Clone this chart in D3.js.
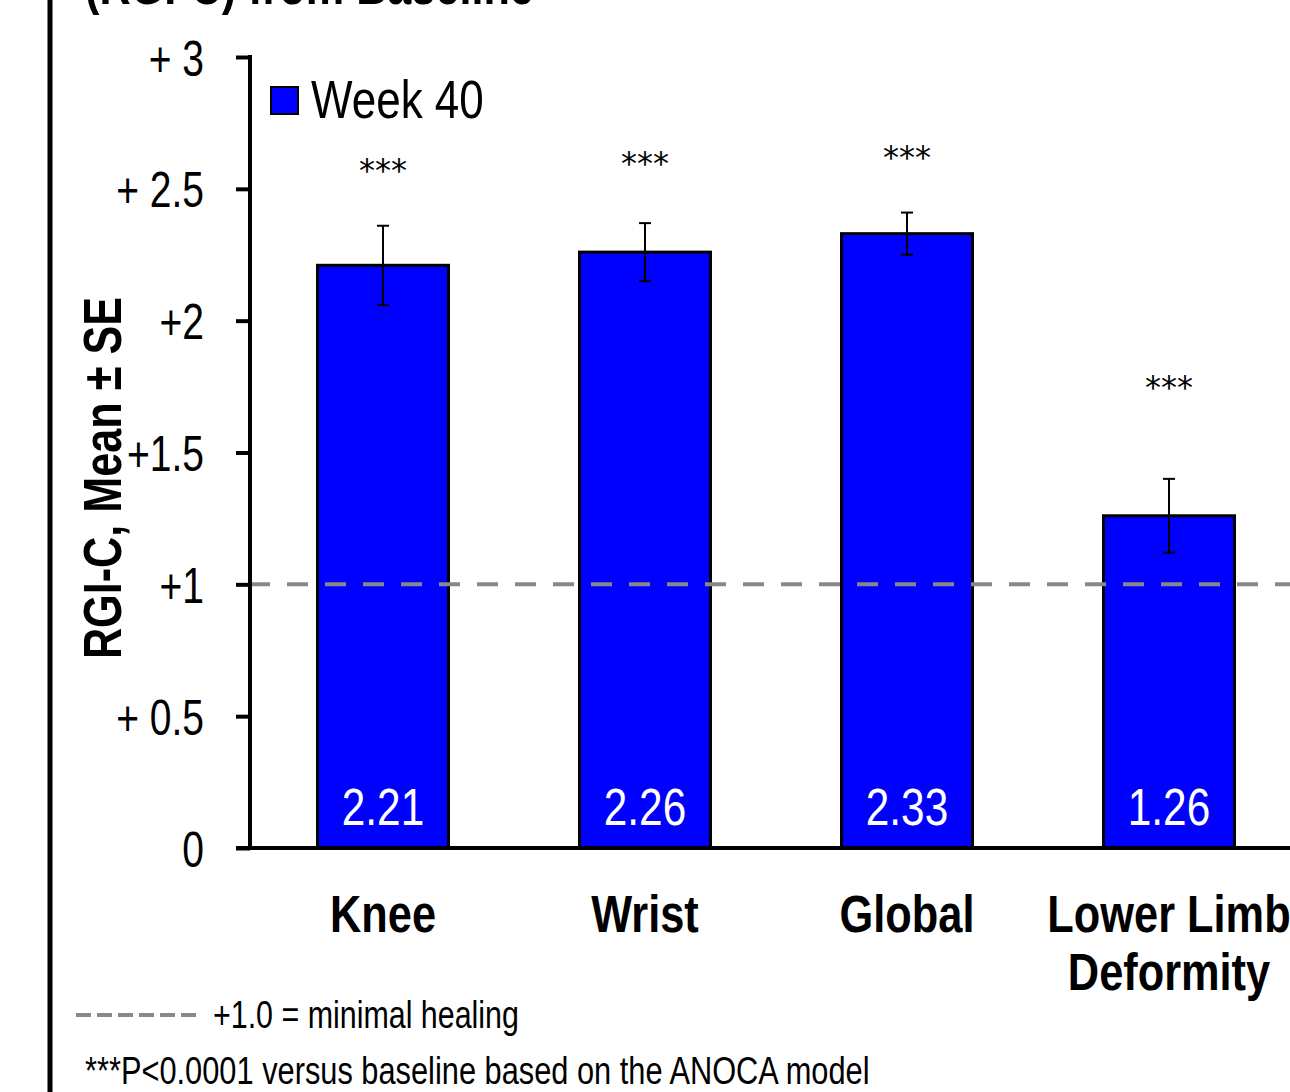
<!DOCTYPE html>
<html>
<head>
<meta charset="utf-8">
<script src="https://cdn.jsdelivr.net/npm/d3@7"></script>
<style>
  body { margin: 0; background: #fff; }
  svg { display: block; }
  text { font-family: "Liberation Sans", Arial, sans-serif; }
</style>
</head>
<body>
<script>

// chart data
var categories = ["Knee", "Wrist", "Global", "Lower Limb|Deformity"];
var means = [2.21, 2.26, 2.33, 1.26];
var errors = [0.15, 0.11, 0.08, 0.14];
var starLevels = [2.6, 2.63, 2.65, 1.78];
var yTicks = [0, 0.5, 1, 1.5, 2, 2.5, 3];
var yTickLabels = ["0", "+ 0.5", "+1", "+1.5", "+2", "+ 2.5", "+ 3"];
var minimalHealing = 1;

// squeeze text horizontally to look like a narrow font
function narrow(sel, f) {
  sel.each(function() {
    var w = this.getComputedTextLength();
    d3.select(this)
      .attr("textLength", w * f)
      .attr("lengthAdjust", "spacingAndGlyphs");
  });
}

window.onload = function() {

  var W = 1290, H = 1092;

  var svg = d3.select("body")
              .append("svg")
              .attr("width", W)
              .attr("height", H);

  // slide border on the left
  svg.append("line")
     .attr("x1", 50).attr("x2", 50)
     .attr("y1", 0).attr("y2", H)
     .attr("stroke", "black")
     .attr("stroke-width", 5);

  // title (cut off at the top)
  svg.append("text")
     .attr("x", 85)
     .attr("y", 4)
     .attr("font-size", "54px")
     .attr("font-weight", "bold")
     .text("(RGI-C) from Baseline")
     .call(narrow, 0.8);

  // scales
  var yScale = d3.scaleLinear()
                 .domain([0, 3])
                 .range([848, 57]);

  var xScale = d3.scaleBand()
                 .domain(categories)
                 .range([252, 1300])
                 .paddingInner(0.5)
                 .paddingOuter(0.25);

  // bars
  svg.selectAll("rect.bar")
     .data(means)
     .enter()
     .append("rect")
     .attr("class", "bar")
     .attr("x", function(d, i) { return xScale(categories[i]); })
     .attr("y", function(d) { return yScale(d); })
     .attr("width", xScale.bandwidth())
     .attr("height", function(d) { return yScale(0) - yScale(d); })
     .attr("fill", "#0000ff")
     .attr("stroke", "black")
     .attr("stroke-width", 3);

  // dashed reference line at +1
  svg.append("line")
     .attr("x1", 249).attr("x2", W)
     .attr("y1", yScale(minimalHealing)).attr("y2", yScale(minimalHealing))
     .attr("stroke", "#888")
     .attr("stroke-width", 4)
     .attr("stroke-dasharray", "21,17");

  // error bars
  var eb = svg.selectAll("g.err")
              .data(means)
              .enter()
              .append("g")
              .attr("class", "err")
              .attr("transform", function(d, i) {
                return "translate(" + (xScale(categories[i]) + xScale.bandwidth() / 2) + ",0)";
              });

  eb.append("line")
    .attr("y1", function(d, i) { return yScale(d + errors[i]); })
    .attr("y2", function(d, i) { return yScale(d - errors[i]); })
    .attr("stroke", "black")
    .attr("stroke-width", 2);

  eb.append("line")
    .attr("x1", -6).attr("x2", 6)
    .attr("y1", function(d, i) { return yScale(d + errors[i]); })
    .attr("y2", function(d, i) { return yScale(d + errors[i]); })
    .attr("stroke", "black")
    .attr("stroke-width", 2);

  eb.append("line")
    .attr("x1", -6).attr("x2", 6)
    .attr("y1", function(d, i) { return yScale(d - errors[i]); })
    .attr("y2", function(d, i) { return yScale(d - errors[i]); })
    .attr("stroke", "black")
    .attr("stroke-width", 2);

  // significance stars
  eb.append("text")
    .attr("y", function(d, i) { return yScale(starLevels[i]) + 19; })
    .attr("text-anchor", "middle")
    .style("font-family", "'DejaVu Sans', sans-serif")
    .attr("font-size", "32px")
    .text("***");

  // value labels inside bars
  eb.append("text")
    .attr("y", 825)
    .attr("text-anchor", "middle")
    .attr("font-size", "51px")
    .attr("fill", "white")
    .text(function(d) { return d.toFixed(2); })
    .call(narrow, 0.83);

  // y axis
  var yAxis = d3.axisLeft(yScale)
                .tickValues(yTicks)
                .tickSize(14)
                .tickPadding(32)
                .tickFormat(function(d, i) { return yTickLabels[i]; });

  var yGuide = svg.append("g")
                  .attr("transform", "translate(250,0)")
                  .call(yAxis);
  yGuide.select(".domain").remove();
  yGuide.selectAll("line")
        .attr("stroke", "black")
        .attr("stroke-width", 4);
  yGuide.selectAll("text")
        .attr("font-size", "50px")
        .attr("dy", "0.36em")
        .attr("fill", "black")
        .style("font-family", "'Liberation Sans', sans-serif")
        .call(narrow, 0.78);

  svg.append("line")
     .attr("x1", 250).attr("x2", 250)
     .attr("y1", yScale(3) - 2).attr("y2", yScale(0))
     .attr("stroke", "black")
     .attr("stroke-width", 4);

  // x axis
  svg.append("line")
     .attr("x1", 236).attr("x2", W)
     .attr("y1", yScale(0)).attr("y2", yScale(0))
     .attr("stroke", "black")
     .attr("stroke-width", 4);

  // category labels, split on "|" into lines
  categories.forEach(function(c) {
    var cx = xScale(c) + xScale.bandwidth() / 2;
    c.split("|").forEach(function(s, i) {
      svg.append("text")
         .attr("x", cx)
         .attr("y", 932 + i * 58)
         .attr("text-anchor", "middle")
         .attr("font-size", "51px")
         .attr("font-weight", "bold")
         .text(s)
         .call(narrow, 0.85);
    });
  });

  // y axis title
  svg.append("text")
     .attr("transform", "translate(121,478) rotate(-90)")
     .attr("text-anchor", "middle")
     .attr("font-size", "54px")
     .attr("font-weight", "bold")
     .text("RGI-C, Mean \u00b1 SE")
     .call(narrow, 0.8);

  // legend
  svg.append("rect")
     .attr("x", 271).attr("y", 87)
     .attr("width", 27).attr("height", 27)
     .attr("fill", "#0000ff")
     .attr("stroke", "black")
     .attr("stroke-width", 2);

  svg.append("text")
     .attr("x", 311)
     .attr("y", 118)
     .attr("font-size", "53px")
     .text("Week 40")
     .call(narrow, 0.83);

  // bottom notes
  svg.append("line")
     .attr("x1", 76).attr("x2", 197)
     .attr("y1", 1015).attr("y2", 1015)
     .attr("stroke", "#888")
     .attr("stroke-width", 4)
     .attr("stroke-dasharray", "15,6");

  svg.append("text")
     .attr("x", 213)
     .attr("y", 1028)
     .attr("font-size", "38px")
     .text("+1.0 = minimal healing")
     .call(narrow, 0.8);

  svg.append("text")
     .attr("x", 85)
     .attr("y", 1084)
     .attr("font-size", "38px")
     .text("***P<0.0001 versus baseline based on the ANOCA model")
     .call(narrow, 0.81);
};
</script>
</body>
</html>
